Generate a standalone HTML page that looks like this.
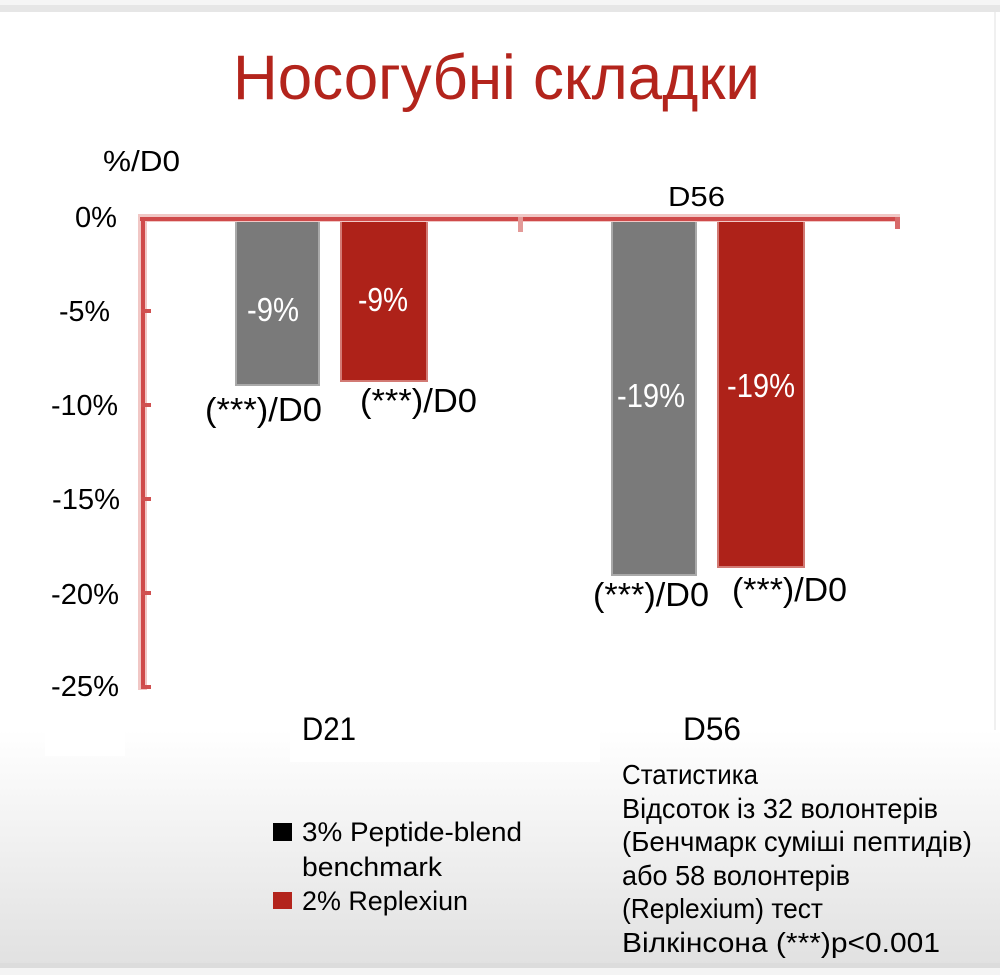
<!DOCTYPE html>
<html>
<head>
<meta charset="utf-8">
<style>
  html, body { margin: 0; padding: 0; background: #ffffff; }
  body { width: 1000px; height: 975px; overflow: hidden; }
  svg { display: block; }
  text { font-family: "Liberation Sans", "Noto Sans CJK SC", sans-serif; }
</style>
</head>
<body>
<svg width="1000" height="975" viewBox="0 0 1000 975" xmlns="http://www.w3.org/2000/svg">
  <defs>
    <linearGradient id="bg" x1="0" y1="0" x2="0" y2="1">
      <stop offset="0" stop-color="#ffffff"/>
      <stop offset="1" stop-color="#e1e1e1"/>
    </linearGradient>
  </defs>

  <!-- background -->
  <rect x="0" y="0" width="1000" height="975" fill="#ffffff"/>
  <rect x="0" y="0" width="1000" height="5" fill="#f5f5f5"/>
  <rect x="0" y="5" width="1000" height="7" fill="#e6e6e6"/>
  <rect x="994" y="12" width="2" height="720" fill="#f0f0f0"/>
  <rect x="0" y="730" width="1000" height="234" fill="url(#bg)"/>
  <rect x="45" y="728" width="80" height="28" fill="#ffffff"/>
  <rect x="290" y="728" width="310" height="34" fill="#ffffff"/>
  <rect x="0" y="963" width="1000" height="5" fill="#dcdcdc"/>
  <rect x="0" y="968" width="1000" height="7" fill="#f4f4f4"/>

  <!-- title -->
  <text x="233" y="99" font-size="63" fill="#b3241c" textLength="527" lengthAdjust="spacingAndGlyphs">Носогубні складки</text>

  <!-- axis unit -->
  <text x="103" y="171" font-size="29" fill="#000" textLength="77" lengthAdjust="spacingAndGlyphs">%/D0</text>
  <text x="668" y="206" font-size="28" fill="#000" textLength="57" lengthAdjust="spacingAndGlyphs">D56</text>

  <!-- bars -->
  <rect x="235" y="218" width="85" height="168" fill="#a9a9a9"/>
  <rect x="237" y="218" width="81" height="166" fill="#7a7a7a"/>
  <rect x="340" y="218" width="88" height="164" fill="#d27a74"/>
  <rect x="342" y="218" width="84" height="162" fill="#ae2219"/>
  <rect x="611" y="218" width="86" height="358" fill="#a9a9a9"/>
  <rect x="613" y="218" width="82" height="356" fill="#7a7a7a"/>
  <rect x="717" y="218" width="88" height="350" fill="#d27a74"/>
  <rect x="719" y="218" width="84" height="348" fill="#ae2219"/>

  <!-- axes -->
  <g>
    <rect x="138" y="214" width="762" height="8" fill="#f1c7c5"/>
    <rect x="138" y="214" width="9" height="476" fill="#f1c7c5"/>
    <rect x="140" y="217" width="758" height="4" fill="#cf4a4a"/>
    <rect x="141" y="217" width="4" height="471" fill="#cf4a4a"/>
    <!-- x ticks -->
    <rect x="518" y="217" width="5" height="15" fill="#e39a98"/>
    <rect x="895" y="217" width="5" height="12" fill="#d86a6a"/>
    <!-- y ticks -->
    <rect x="141" y="309" width="10" height="4" fill="#d05050"/>
    <rect x="141" y="403" width="10" height="4" fill="#d05050"/>
    <rect x="141" y="497" width="10" height="4" fill="#d05050"/>
    <rect x="141" y="591" width="10" height="4" fill="#d05050"/>
    <rect x="141" y="685" width="10" height="4" fill="#d05050"/>
  </g>

  <!-- y labels -->
  <g font-size="29" fill="#000">
    <text x="75" y="227" textLength="42" lengthAdjust="spacingAndGlyphs">0%</text>
    <text x="59" y="321" textLength="51" lengthAdjust="spacingAndGlyphs">-5%</text>
    <text x="51" y="415" textLength="67" lengthAdjust="spacingAndGlyphs">-10%</text>
    <text x="52" y="509" textLength="68" lengthAdjust="spacingAndGlyphs">-15%</text>
    <text x="51" y="604" textLength="68" lengthAdjust="spacingAndGlyphs">-20%</text>
    <text x="51" y="696" textLength="68" lengthAdjust="spacingAndGlyphs">-25%</text>
  </g>

  <!-- bar value labels -->
  <g font-size="33" fill="#ffffff">
    <text x="247" y="321" textLength="52" lengthAdjust="spacingAndGlyphs">-9%</text>
    <text x="358" y="311" textLength="50" lengthAdjust="spacingAndGlyphs">-9%</text>
    <text x="617" y="407" textLength="68" lengthAdjust="spacingAndGlyphs">-19%</text>
    <text x="727" y="397" textLength="68" lengthAdjust="spacingAndGlyphs">-19%</text>
  </g>

  <!-- significance labels -->
  <g font-size="33" fill="#000">
    <text x="205" y="421" textLength="117" lengthAdjust="spacingAndGlyphs">(***)/D0</text>
    <text x="360" y="412" textLength="117" lengthAdjust="spacingAndGlyphs">(***)/D0</text>
    <text x="593" y="606" textLength="116" lengthAdjust="spacingAndGlyphs">(***)/D0</text>
    <text x="732" y="601" textLength="115" lengthAdjust="spacingAndGlyphs">(***)/D0</text>
  </g>

  <!-- category labels -->
  <text x="302" y="740" font-size="32" fill="#000" textLength="54" lengthAdjust="spacingAndGlyphs">D21</text>
  <text x="683" y="740" font-size="32" fill="#000" textLength="58" lengthAdjust="spacingAndGlyphs">D56</text>

  <!-- legend -->
  <rect x="273" y="823" width="19" height="18" fill="#000000"/>
  <rect x="273" y="892" width="19" height="17" fill="#b3241c"/>
  <g font-size="27" fill="#000">
    <text x="302" y="841" textLength="220" lengthAdjust="spacingAndGlyphs">3% Peptide-blend</text>
    <text x="302" y="876" textLength="140" lengthAdjust="spacingAndGlyphs">benchmark</text>
    <text x="302" y="910" textLength="166" lengthAdjust="spacingAndGlyphs">2% Replexiun</text>
  </g>

  <!-- statistics note -->
  <g font-size="28" fill="#000">
    <text x="622" y="784" textLength="136" lengthAdjust="spacingAndGlyphs">Статистика</text>
    <text x="622" y="818" textLength="316" lengthAdjust="spacingAndGlyphs">Відсоток із 32 волонтерів</text>
    <text x="622" y="851" textLength="350" lengthAdjust="spacingAndGlyphs">(Бенчмарк суміші пептидів)</text>
    <text x="622" y="885" textLength="228" lengthAdjust="spacingAndGlyphs">або 58 волонтерів</text>
    <text x="622" y="918" textLength="201" lengthAdjust="spacingAndGlyphs">(Replexium) тест</text>
    <text x="622" y="952" textLength="318" lengthAdjust="spacingAndGlyphs">Вілкінсона (***)p&lt;0.001</text>
  </g>
</svg>
</body>
</html>
